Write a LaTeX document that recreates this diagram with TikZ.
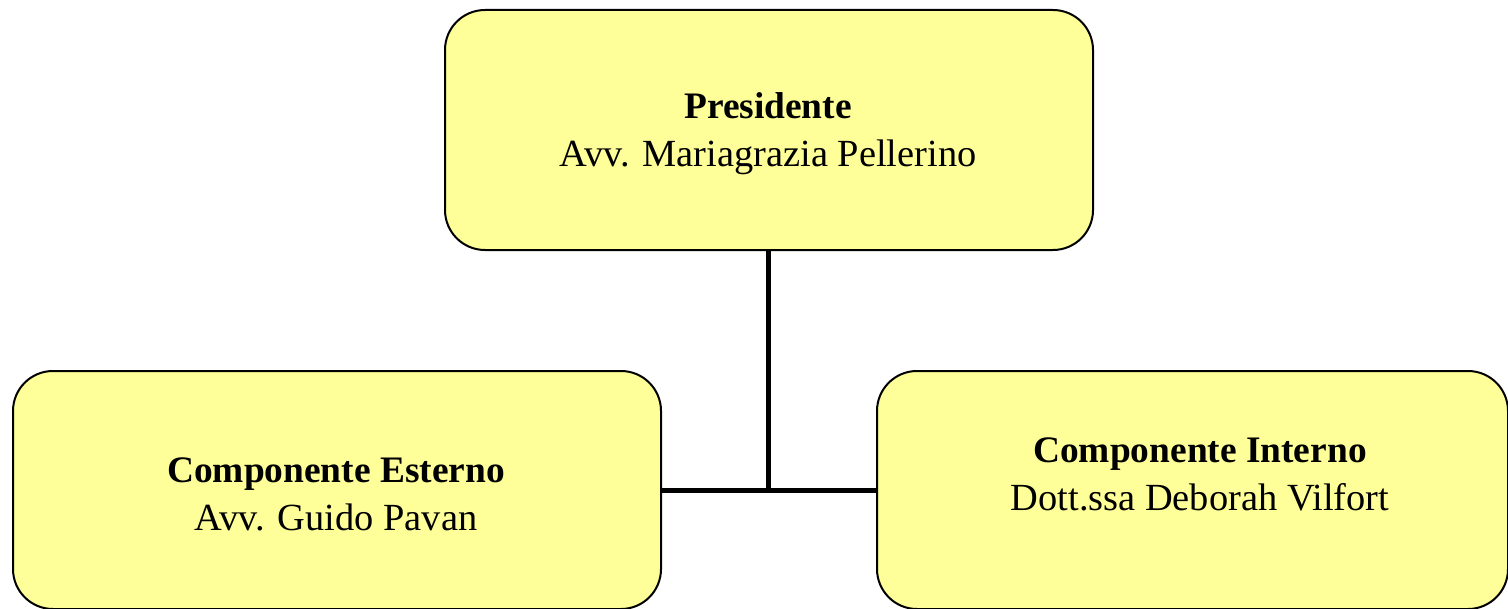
\documentclass[tikz,border=0pt]{standalone}
\usepackage{fontspec}
\setmainfont{Liberation Serif}
\definecolor{boxfill}{HTML}{FFFF99}
\begin{document}
\begin{tikzpicture}[x=0.5pt,y=-0.5pt,
  orgbox/.style={draw=black, line width=1pt, fill=boxfill, rounded corners=20pt, inner sep=0pt, anchor=north west},
  lbl/.style={align=center, inner sep=0pt, font=\fontsize{19.2}{24}\selectfont},
  link/.style={line width=2.5pt, draw=black}]
\useasboundingbox (0,0) rectangle (1508,609);
\node[orgbox, minimum width=324pt, minimum height=120pt] (top) at (444,9) {};
\node[orgbox, minimum width=324pt, minimum height=119pt] (left) at (12,370) {};
\node[orgbox, minimum width=315.5pt, minimum height=119pt] (right) at (876,370) {};
\coordinate (junc) at (768,490);
\draw[link] (top.south -| junc) -- (junc);
\draw[link] (left.east |- junc) -- (right.west |- junc);
\node[lbl] (ttop) at (768,134) {{\fontsize{18.7}{24}\selectfont\bfseries Presidente}\\Avv. Mariagrazia Pellerino};
\node[lbl] (tleft) at (336,494) {{\fontsize{18.7}{24}\selectfont\bfseries Componente Esterno}\\Avv. Guido Pavan};
\node[lbl] (tright) at (1200,474) {{\fontsize{18.7}{24}\selectfont\bfseries Componente Interno}\\Dott.ssa Deborah Vilfort};
\end{tikzpicture}
\end{document}
